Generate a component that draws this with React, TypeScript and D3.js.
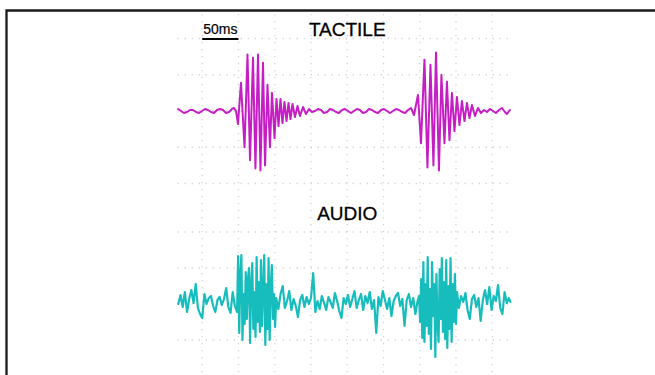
import * as d3 from "d3";

// time in ms, amplitude in arbitrary units (1 grid division = 36 a.u.)
const timeTicks = [50, 100, 150, 200, 250, 300, 350, 400, 450];
const ampTicks = [-72, -36, 0, 36, 72];

const tactileSignal: [number, number][] = [
  [16.6, 2], [20.7, 0], [24.8, -2], [29.0, -1], [33.1, 1], [37.2, 1], [41.4, -1], [45.5, -2], [49.7, 0],
  [53.8, 2], [57.9, 1], [62.1, -1], [66.2, -2], [70.3, 1], [74.5, 2], [78.6, 1], [82.8, -2], [86.9, -1],
  [91.0, 2], [93.8, 3], [96.6, 0],
  [99.3, -13], [103.4, 28], [108.3, -36], [112.4, 56], [115.9, -49], [120.0, 53], [123.4, -57], [126.9, 56],
  [130.3, -59], [133.8, 48], [136.6, -54], [140.0, 26], [143.4, -36], [146.2, 18], [149.7, -27], [152.4, 12],
  [155.2, -15], [157.9, 12], [160.7, -12], [163.4, 9], [166.2, -10], [169.0, 8], [171.7, -8], [174.5, 7],
  [177.9, -6], [181.4, 5], [184.8, -5], [189.0, 4], [193.1, -3], [197.2, 2],
  [201.4, -1], [205.5, 0], [209.7, 2], [213.8, 1], [217.9, -2], [222.1, -1], [226.2, 2], [230.3, 1],
  [234.5, -1], [238.6, -2], [242.8, 1], [246.9, 2], [251.0, 0], [255.2, -2], [259.3, 0], [263.4, 2],
  [267.6, 1], [271.7, -2], [275.9, -1], [280.0, 2], [284.1, 1], [288.3, -1], [292.4, -2], [296.6, 1],
  [300.7, 2], [304.8, 0], [309.0, -2], [313.1, 0], [317.2, 2], [321.4, 1], [325.5, -1], [329.7, -2],
  [333.8, 1], [337.9, 3],
  [342.1, -4], [347.5, 16], [351.7, -32], [356.5, 51], [360.6, -56], [364.8, 46], [368.9, -54], [372.4, 58],
  [376.5, -59], [379.9, 36], [384.1, -32], [387.5, 29], [391.0, -29], [394.4, 18], [397.9, -20], [401.3, 14],
  [404.8, -14], [408.2, 10], [411.7, -10], [415.1, 8], [418.6, -7], [422.0, 6], [426.2, -5], [430.3, 3],
  [434.4, -2], [438.6, 1], [442.7, -1], [446.8, 2], [451.0, 0], [455.1, -2], [459.2, 1], [463.4, 3],
  [467.5, -1], [470.3, -3], [474.4, 1],
];

const audioSignal: [number, number][] = [
  [17, 0], [20, 9], [23, -3], [26, 12], [29, -8], [32, 5], [35, 14], [38, 1], [41, 20], [44, -4],
  [47, -10], [50, -14], [53, 10], [56, 0], [59, 6], [62, 8], [65, -2], [68, -8], [71, 4], [74, 7],
  [77, -1], [80, 5], [83, 16], [86, -3], [89, -9], [92, 12], [95, -2], [98, -8],
  [99.5, 48], [101, -29], [102.5, 30], [104, 49], [105.5, -36], [107, 10], [108.5, -20], [110, 32],
  [111.5, -15], [113, 25], [114.5, 36], [116, -39], [117.5, 20], [119, 41], [120.5, -25], [122, 12],
  [123.5, -33], [125, 47], [126.5, -18], [128, 22], [129.5, -28], [131, 44], [132.5, -22], [134, 15],
  [135.5, 49], [137, -41], [138.5, 20], [140, -25], [141.5, 46], [143, -36], [144.5, 18], [146, 39],
  [147.5, -15], [149, 10], [150.5, -23],
  [152, 6], [155, -5], [158, 10], [161, 18], [164, -4], [167, 3], [170, 13], [173, -6], [176, 5],
  [179, -2], [182, -13], [185, 4], [188, 9], [191, -3], [194, 7], [197, 0], [200, 6], [203, 31],
  [206, -8], [209, 3], [212, -5], [215, 8], [218, 1], [221, -6], [224, 7], [227, 2], [230, -4],
  [233, 11], [236, 3], [239, -7], [242, -14], [245, 6], [248, 0], [251, 9], [254, -3], [257, 5],
  [260, 13], [263, -4], [266, 4], [269, 10], [272, -6], [275, 8], [278, 1], [281, 12], [284, -5],
  [287, 4], [290, -29], [293, 7], [296, -2], [299, 13], [302, 4], [305, -5], [308, 6], [311, -12],
  [314, 3], [317, 8], [320, 11], [323, -2], [326, 5], [329, -22], [332, 4], [335, 10], [338, -3],
  [341, 6], [344, -10], [347, 3],
  [349, 8], [350.5, -18], [352, 25], [353.5, -34], [355, 42], [356.5, -38], [358, 20], [359.5, -22],
  [361, 47], [362.5, -30], [364, 15], [365.5, -45], [367, 42], [368.5, -12], [370, 20], [371.5, -53],
  [373, 30], [374.5, -20], [376, -38], [377.5, 35], [379, -15], [380.5, 46], [382, -28], [383.5, 22],
  [385, -35], [386.5, 44], [388, -44], [389.5, 18], [391, -25], [392.5, 46], [394, -38], [395.5, 20],
  [397, -18], [398.5, 30], [400, -20], [401.5, 12],
  [404, -4], [407, 8], [410, 2], [413, 11], [416, -6], [419, -15], [422, 5], [425, 9], [428, -3],
  [431, 6], [434, -17], [437, 4], [440, 14], [443, 0], [446, 17], [449, -6], [452, 8], [455, 3],
  [458, 19], [461, -4], [464, -10], [467, 12], [470, 1], [473, 6], [475, 2],
];

const panels = [
  { title: "TACTILE", data: tactileSignal, color: "#c41ec4", top: 38.5, bottom: 183.5, titleY: 36, width: 2 },
  { title: "AUDIO", data: audioSignal, color: "#17bcbc", top: 232, bottom: 376, titleY: 220, width: 2.2 },
];

const W = 655;
const H = 375;
const FONT = "'Liberation Sans', Arial, sans-serif";

export default function App() {
  const x = d3.scaleLinear().domain([0, 500]).range([166, 528.5]);
  const gridStart = 16;
  const gridEnd = 478;

  return (
    <svg width={W} height={H} style={{ position: "absolute", left: 0, top: 0, background: "#fff" }}>
      {/* vertical grid */}
      {timeTicks.map((t) => (
        <line key={"v" + t} x1={x(t)} x2={x(t)} y1={14} y2={H}
          stroke="#d2d2d2" strokeWidth={1.3} strokeDasharray="1.3 5.7" />
      ))}
      {panels.map((p) => {
        const y = d3.scaleLinear().domain([-72, 72]).range([p.bottom, p.top]);
        const line = d3.line<[number, number]>().x((d) => x(d[0])).y((d) => y(d[1]));
        return (
          <g key={p.title}>
            {ampTicks.map((a) => (
              <line key={"h" + a} x1={x(gridStart)} x2={x(gridEnd)} y1={y(a)} y2={y(a)}
                stroke="#d2d2d2" strokeWidth={1.3} strokeDasharray="1.3 5.7" />
            ))}
            <path d={line(p.data) ?? ""} fill="none" stroke={p.color} strokeWidth={p.width}
              strokeLinejoin="round" strokeLinecap="round" />
            <text x={x(250)} y={p.titleY} textAnchor="middle" fontFamily={FONT} fontSize={19}
              fill="#000" stroke="#000" strokeWidth={0.3}>
              {p.title}
            </text>
          </g>
        );
      })}
      {/* scale bar */}
      <text x={x(75)} y={34} textAnchor="middle" fontFamily={FONT} fontSize={14}
        fill="#000" stroke="#000" strokeWidth={0.2}>50ms</text>
      <line x1={x(50)} x2={x(100)} y1={39} y2={39} stroke="#000" strokeWidth={2} />
      {/* frame */}
      <path d={`M6.5,${H} V10.5 H${W}`} fill="none" stroke="#1a1a1a" strokeWidth={2.3} />
    </svg>
  );
}
